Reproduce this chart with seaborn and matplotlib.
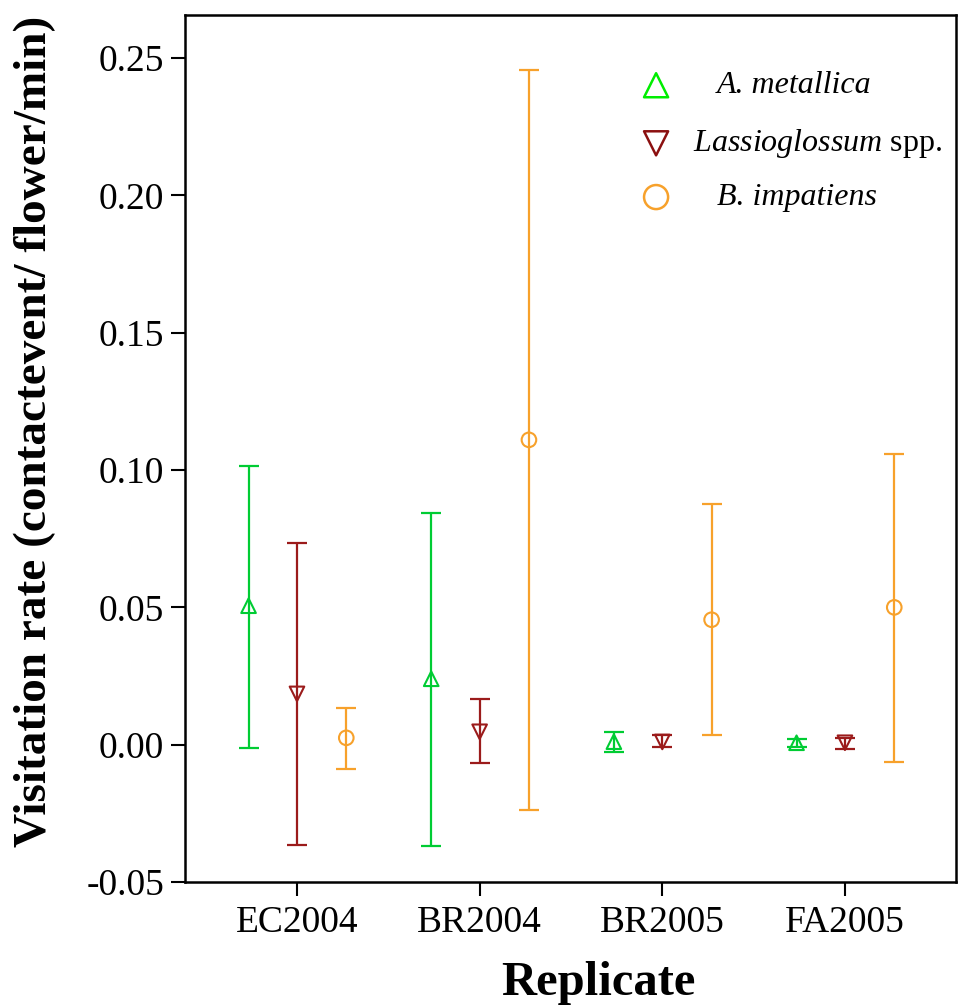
import matplotlib
matplotlib.use("Agg")
import matplotlib.pyplot as plt
import seaborn as sns
import pandas as pd
import numpy as np

sns.set_theme(style="ticks")
plt.rcParams['font.family'] = ['Liberation Serif', 'DejaVu Serif']
plt.rcParams['mathtext.fontset'] = 'custom'
plt.rcParams['mathtext.rm'] = 'Liberation Serif'
plt.rcParams['mathtext.it'] = 'Liberation Serif:italic'
plt.rcParams['text.color'] = 'black'
plt.rcParams['axes.labelcolor'] = 'black'
plt.rcParams['xtick.color'] = 'black'
plt.rcParams['ytick.color'] = 'black'

replicates = ["EC2004", "BR2004", "BR2005", "FA2005"]
species = ["A. metallica", "Lassioglossum spp.", "B. impatiens"]

metallica_mean = [0.0506, 0.0240, 0.0011, 0.0007]
metallica_low = [-0.0011, -0.0370, -0.0025, -0.0010]
metallica_high = [0.1015, 0.0844, 0.0047, 0.0020]

lassio_mean = [0.0185, 0.0047, 0.0010, 0.0007]
lassio_low = [-0.0364, -0.0066, -0.0010, -0.0015]
lassio_high = [0.0735, 0.0167, 0.0036, 0.0025]

bimp_mean = [0.0025, 0.1110, 0.0455, 0.0500]
bimp_low = [-0.0087, -0.0237, 0.0036, -0.0062]
bimp_high = [0.0135, 0.2456, 0.0877, 0.1060]

colors = {"A. metallica": "#00CC33", "Lassioglossum spp.": "#9B1B1B", "B. impatiens": "#F7A12B"}
legend_colors = {"A. metallica": "#00EE00", "Lassioglossum spp.": "#8B1010", "B. impatiens": "#F7A12B"}
markers = {"A. metallica": "^", "Lassioglossum spp.": "v", "B. impatiens": "o"}
offsets = {"A. metallica": -0.265, "Lassioglossum spp.": 0.0, "B. impatiens": 0.27}

rows = []
for sp, m, lo, hi in [("A. metallica", metallica_mean, metallica_low, metallica_high),
                      ("Lassioglossum spp.", lassio_mean, lassio_low, lassio_high),
                      ("B. impatiens", bimp_mean, bimp_low, bimp_high)]:
    for i, r in enumerate(replicates):
        rows.append(dict(replicate=r, species=sp, mean=m[i], low=lo[i], high=hi[i],
                         x=i + 1 + offsets[sp]))
df = pd.DataFrame(rows)

fig = plt.figure(figsize=(9.58, 10.08), dpi=100)
ax = fig.add_axes([185/958, 1 - 882/1008, (956-185)/958, (882-15)/1008])

for sp in species:
    d = df[df.species == sp]
    ax.errorbar(d.x, d["mean"], yerr=[d["mean"] - d.low, d.high - d["mean"]],
                fmt="none", ecolor=colors[sp], elinewidth=1.6, capsize=7, capthick=1.6, zorder=2)

sns.scatterplot(data=df, x="x", y="mean", hue="species", style="species",
                palette=colors, markers=markers, s=110, facecolor="none",
                linewidth=1.5, ax=ax, legend=False, zorder=3)
coll = ax.collections[-1]
coll.set_edgecolors([colors[s] for s in df.species])
coll.set_facecolors("none")

ax.set_xlim(0.387, 4.608)
ax.set_ylim(-0.05, 0.2657)
ax.set_xticks([1, 2, 3, 4])
ax.set_xticklabels(replicates)
ax.set_yticks([-0.05, 0.0, 0.05, 0.10, 0.15, 0.20, 0.25])
ax.set_yticklabels(["-0.05", "0.00", "0.05", "0.10", "0.15", "0.20", "0.25"])
ax.tick_params(axis="both", labelsize=27, length=10, width=1.5, direction="out", colors="black")
ax.tick_params(axis="x", pad=7)
ax.tick_params(axis="y", pad=5)
for s in ax.spines.values():
    s.set_linewidth(1.8)
    s.set_color("black")

ax.set_xlabel("")
ax.set_ylabel("Visitation rate (contactevent/ flower/min)", fontsize=34, fontweight="bold")
ax.yaxis.set_label_coords(-0.167, 0.52)
fig.text(598/958, 1 - 995/1008, "Replicate", fontsize=35, fontweight="bold",
         ha="center", va="baseline")

# legend
leg_y = [0.919, 0.852, 0.790]
text_x = [0.690, 0.659, 0.690]
for sp, yy, tx in zip(species, leg_y, text_x):
    ax.scatter([0.611], [yy], transform=ax.transAxes, marker=markers[sp], s=300,
               facecolors="none", edgecolors=legend_colors[sp], linewidths=1.8, clip_on=False)
    if sp == "Lassioglossum spp.":
        ax.text(tx, yy, "$\\mathit{Lassioglossum}$ spp.", transform=ax.transAxes,
                fontsize=23, va="center", ha="left")
    else:
        ax.text(tx, yy, sp, transform=ax.transAxes, fontsize=23, va="center",
                ha="left", style="italic")

fig.savefig("out.png", dpi=100, facecolor="white")
